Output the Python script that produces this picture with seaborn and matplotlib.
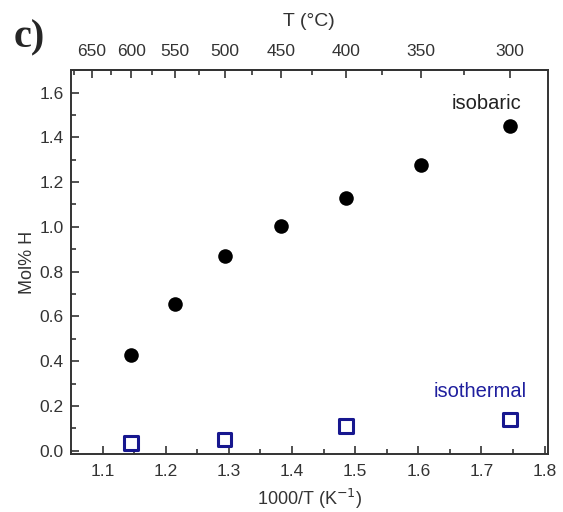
import numpy as np
import matplotlib
matplotlib.use("Agg")
import matplotlib.pyplot as plt
import seaborn as sns
import pandas as pd
from matplotlib.ticker import FixedLocator, MultipleLocator

# Data
temps_isobaric = [600, 550, 500, 450, 400, 350, 300]  # deg C
mol_isobaric = [0.43, 0.655, 0.87, 1.005, 1.13, 1.275, 1.45]
temps_isothermal = [600, 500, 400, 300]
mol_isothermal = [0.035, 0.05, 0.11, 0.14]
top_major = [650, 600, 550, 500, 450, 400, 350, 300]
top_minor = [675, 625, 575, 525, 475, 425, 375, 325]

df_b = pd.DataFrame({"x": [1000 / (t + 273.15) for t in temps_isobaric], "y": mol_isobaric})
df_t = pd.DataFrame({"x": [1000 / (t + 273.15) for t in temps_isothermal], "y": mol_isothermal})

sns.set_style("ticks")
plt.rcParams["font.family"] = ["Liberation Sans", "DejaVu Sans"]
plt.rcParams["xtick.direction"] = "in"
plt.rcParams["ytick.direction"] = "in"

fig = plt.figure(figsize=(5.63, 5.12), dpi=100)
ax = fig.add_axes([0.126, 0.113, 0.847, 0.750])

sns.scatterplot(data=df_b, x="x", y="y", ax=ax, marker="o", s=110, color="black",
                edgecolor="black", linewidth=0, zorder=3)
sns.scatterplot(data=df_t, x="x", y="y", ax=ax, marker="s", s=95, facecolor="none",
                edgecolor="#17178f", linewidth=2.2, zorder=3)

ax.set_xlim(1.05, 1.805)
ax.set_ylim(-0.015, 1.7)
ax.xaxis.set_major_locator(FixedLocator([1.1, 1.2, 1.3, 1.4, 1.5, 1.6, 1.7, 1.8]))
ax.xaxis.set_minor_locator(MultipleLocator(0.05))
ax.yaxis.set_major_locator(FixedLocator([0.0, 0.2, 0.4, 0.6, 0.8, 1.0, 1.2, 1.4, 1.6]))
ax.yaxis.set_minor_locator(MultipleLocator(0.1))
ax.xaxis.set_major_formatter(matplotlib.ticker.FormatStrFormatter("%.1f"))
ax.yaxis.set_major_formatter(matplotlib.ticker.FormatStrFormatter("%.1f"))

ax.tick_params(which="major", length=6, width=1.2, labelsize=12.5, colors="#333333",
               labelcolor="#333333", top=False, right=False)
ax.tick_params(axis="x", which="major", pad=7)
ax.tick_params(axis="y", which="major", pad=5)
ax.tick_params(which="minor", length=3.5, width=1.2, colors="#333333", top=False, right=False)
for s in ax.spines.values():
    s.set_linewidth(1.4)
    s.set_color("#333333")

ax.set_xlabel("1000/T (K$^{-1}$)", fontsize=13, color="#333333", labelpad=6)
ax.set_ylabel("Mol% H", fontsize=13, color="#333333", labelpad=3)

f = lambda x: 1000.0 / np.asarray(x, dtype=float) - 273.15
g = lambda t: 1000.0 / (np.asarray(t, dtype=float) + 273.15)
sec = ax.secondary_xaxis("top", functions=(f, g))
sec.xaxis.set_major_locator(FixedLocator(top_major))
sec.xaxis.set_minor_locator(FixedLocator(top_minor))
sec.tick_params(which="major", direction="in", length=6, width=1.2, labelsize=12.5,
                colors="#333333", labelcolor="#333333", pad=8)
sec.tick_params(which="minor", direction="in", length=3.5, width=1.2, colors="#333333")
sec.spines["top"].set_linewidth(1.4)
sec.spines["top"].set_color("#333333")
sec.set_xlabel("T (°C)", fontsize=14, color="#333333", labelpad=13)

ax.text(1.763, 1.55, "isobaric", fontsize=14.5, color="#222222", ha="right", va="center")
ax.text(1.771, 0.263, "isothermal", fontsize=14.5, color="#1f1f9e", ha="right", va="center")

fig.text(0.024, 0.925, "c)", fontsize=29, fontweight="bold", family="Liberation Serif",
         ha="left", va="center")

fig.savefig("out.png", dpi=100)
